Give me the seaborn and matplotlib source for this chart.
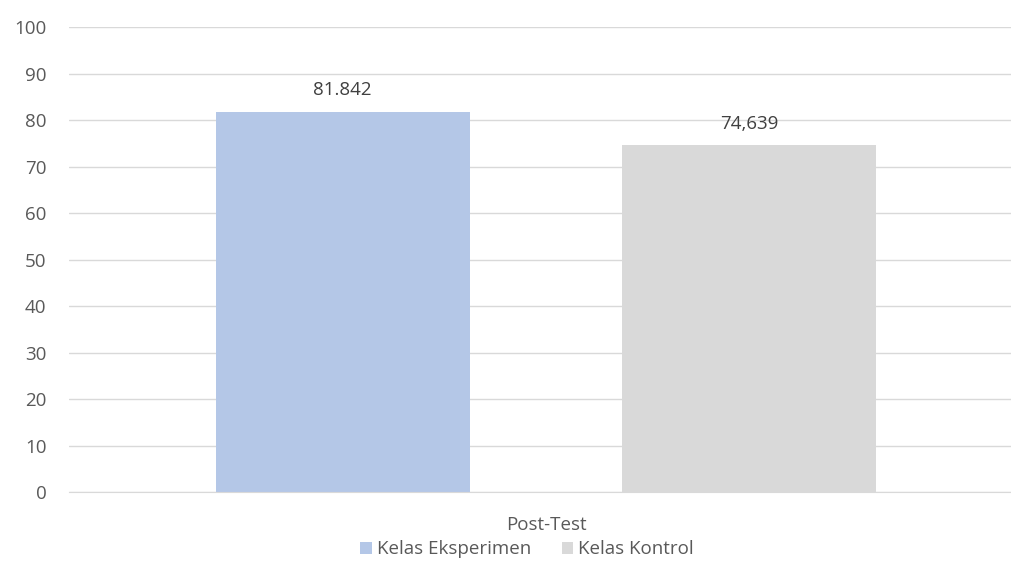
import pandas as pd
import matplotlib.pyplot as plt
import seaborn as sns

# Data
categories = ['Post-Test']
groups = ['Kelas Eksperimen', 'Kelas Kontrol']
values = [81.842, 74.639]
value_labels = ['81.842', '74,639']
colors = ['#B4C7E7', '#D9D9D9']

data = pd.DataFrame({
    'Test': categories * len(groups),
    'Kelas': groups,
    'Nilai': values,
})

sns.set_style('white')
plt.rcParams['font.family'] = ['Open Sans', 'DejaVu Sans']

fig = plt.figure(figsize=(10.12, 5.88), dpi=100)
ax = fig.add_axes([0.068, 0.163, 0.943, 0.791])

sns.barplot(data=data, x='Test', y='Nilai', hue='Kelas', palette=colors,
            width=0.852, gap=0.375, saturation=1, linewidth=0, ax=ax, legend=True)

# Value labels above bars
for container, lab in zip(ax.containers, value_labels):
    ax.bar_label(container, labels=[lab], padding=9, fontsize=13.5, color='#404040')

ax.set_ylim(0, 100)
ax.set_xlim(-0.5, 0.5)
ax.set_yticks(range(0, 101, 10))
ax.yaxis.grid(True, color='#D9D9D9', linewidth=1)
ax.set_axisbelow(True)
for side in ['top', 'right', 'left']:
    ax.spines[side].set_visible(False)
ax.spines['bottom'].set_color('#D9D9D9')
ax.tick_params(axis='y', length=0, labelsize=13.5, labelcolor='#595959', pad=16)
ax.tick_params(axis='x', length=0, labelsize=13.5, labelcolor='#595959', pad=17)
ax.set_xlabel('')
ax.set_ylabel('')

# Legend at the bottom centre
handles, labels = ax.get_legend_handles_labels()
ax.get_legend().remove()
fig.legend(handles, labels, loc='center', bbox_to_anchor=(0.521, 0.066), ncol=2,
           frameon=False, fontsize=13.5, labelcolor='#595959',
           handlelength=0.6, handleheight=0.6, handletextpad=0.3, columnspacing=1.6)

plt.savefig('out.png', dpi=100)
